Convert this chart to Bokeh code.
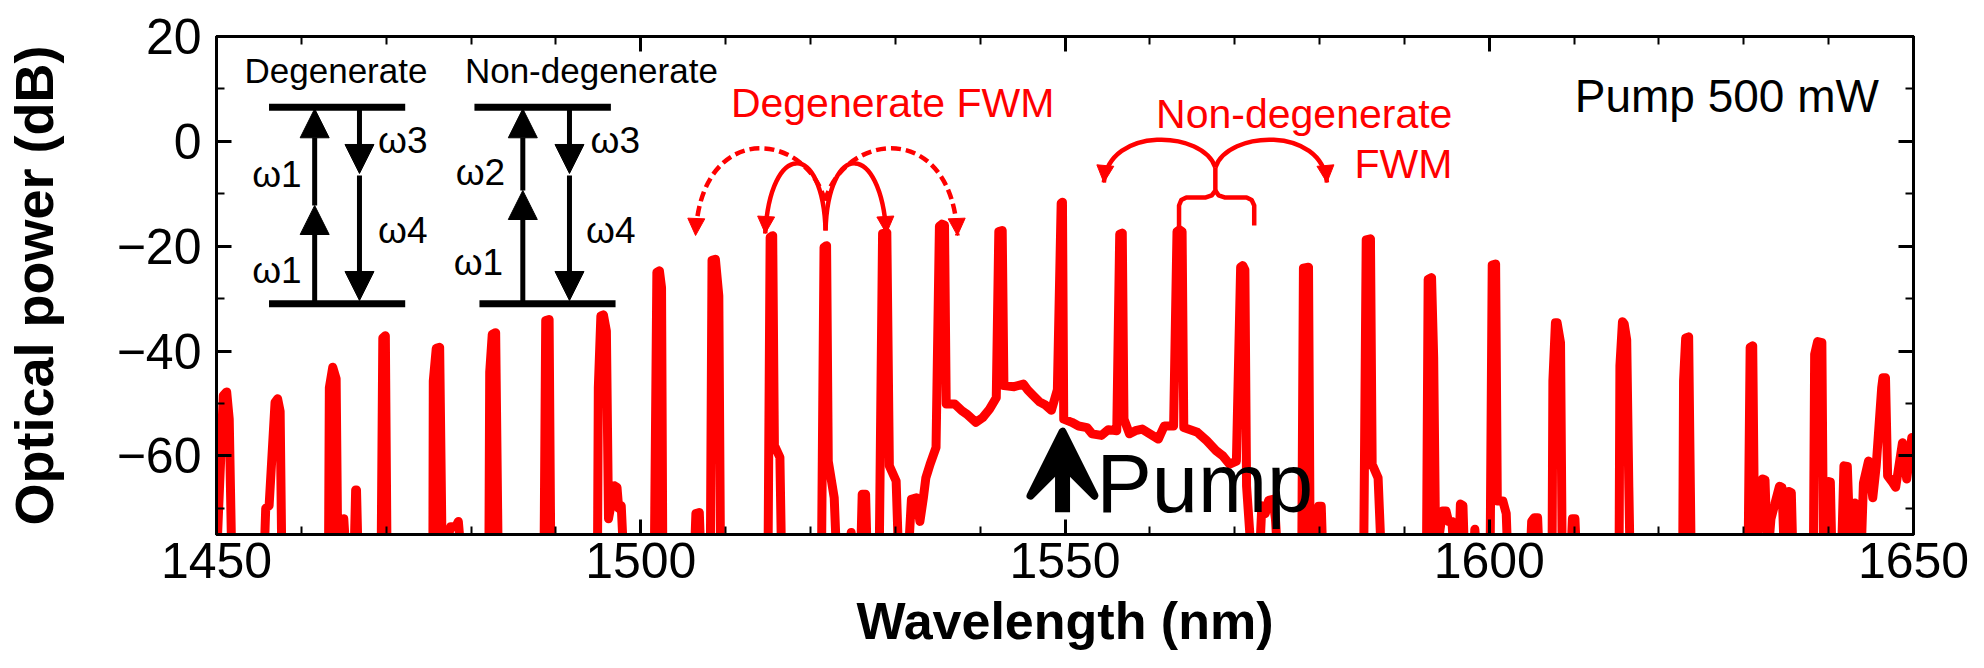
from bokeh.plotting import figure
from bokeh.models import (Range1d, LinearAxis, SingleIntervalTicker, Label,
                          Arrow, NormalHead, VeeHead)
from bokeh.embed import file_html
from bokeh.resources import INLINE

# ---------------- data ----------------
wavelength_nm = [
    1450.0, 1450.8, 1451.2, 1451.5, 1451.8,
    1455.6, 1455.8, 1456.2, 1456.9, 1457.2, 1457.5, 1457.7,
    1463.2, 1463.3, 1463.7, 1464.1, 1464.3, 1465.0, 1465.3, 1466.2, 1466.4, 1466.5, 1466.7,
    1469.4, 1469.6, 1469.9, 1470.1,
    1475.5, 1475.55, 1475.9, 1476.3, 1476.6, 1477.6, 1478.2, 1478.5, 1478.9,
    1482.1, 1482.2, 1482.5, 1482.9, 1483.2,
    1488.6, 1488.8, 1489.2, 1489.4,
    1494.9, 1495.0, 1495.3, 1495.6, 1495.95, 1496.2, 1496.9, 1497.2, 1497.4, 1497.7, 1498.0,
    1501.6, 1501.9, 1502.2, 1502.45, 1502.6,
    1506.3, 1506.5, 1506.9, 1507.1,
    1508.2, 1508.4, 1508.8, 1509.2, 1509.4,
    1515.0, 1515.25, 1515.55, 1515.75, 1516.4, 1516.6,
    1521.3, 1521.6, 1521.9, 1522.1, 1522.8, 1523.1, 1524.6, 1524.8, 1525.0, 1525.9, 1526.1, 1526.5, 1526.7,
    1528.1, 1528.5, 1529.0, 1529.3, 1530.1, 1530.4,
    1531.5, 1531.9, 1532.5, 1532.9, 1533.3, 1533.6, 1534.1, 1534.8,
    1535.2, 1535.5, 1535.8, 1536.0,
    1537.0, 1537.85, 1538.4, 1539.5, 1540.3, 1541.1, 1541.9,
    1542.2, 1542.6, 1542.8,
    1544.0, 1545.1, 1545.6, 1546.2, 1547.0, 1547.7, 1548.4, 1549.1,
    1549.55, 1549.7, 1549.85,
    1550.8, 1551.6, 1552.6, 1553.2, 1554.3, 1555.1, 1556.1,
    1556.45, 1556.75, 1556.95,
    1557.6, 1558.3, 1559.1, 1560.0, 1561.0, 1561.7, 1562.8,
    1563.2, 1563.5, 1563.8, 1564.0,
    1565.6, 1566.7, 1567.8, 1568.6, 1569.4, 1570.2,
    1570.7, 1570.95, 1571.2, 1571.4, 1572.0,
    1572.9, 1573.2, 1573.6, 1574.0, 1574.5, 1574.8, 1575.1,
    1577.9, 1578.1, 1578.7, 1578.9, 1579.7, 1579.9, 1580.2, 1580.4,
    1585.2, 1585.5, 1586.0, 1586.2, 1586.9, 1587.3,
    1592.6, 1592.8, 1593.2, 1593.45, 1593.7, 1594.5, 1594.9, 1595.2, 1595.6, 1595.9,
    1596.4, 1596.6, 1596.9, 1597.1, 1598.1, 1598.3, 1598.6,
    1600.1, 1600.35, 1600.75, 1600.95, 1601.6, 1602.0, 1602.2,
    1604.8, 1605.0, 1605.3, 1605.7, 1605.9,
    1607.4, 1607.5, 1607.8, 1608.0, 1608.4, 1608.6, 1609.6, 1609.8, 1610.1, 1610.3,
    1615.3, 1615.4, 1615.7, 1615.9, 1616.2, 1616.45, 1616.6,
    1622.8, 1622.9, 1623.15, 1623.5, 1623.8,
    1630.5, 1630.75, 1631.05, 1631.3, 1632.2, 1632.5, 1632.8, 1633.2, 1634.2, 1634.5, 1634.8,
    1635.3, 1635.6, 1635.8,
    1638.2, 1638.35, 1638.7, 1639.2, 1639.4, 1640.0, 1640.2, 1640.4,
    1641.5, 1641.8, 1642.2, 1642.6, 1643.1, 1643.5, 1643.8, 1644.1, 1644.7, 1645.2, 1645.6,
    1646.25, 1646.4, 1646.7, 1646.95, 1647.5, 1647.9, 1648.7, 1649.2, 1649.8, 1650.0,
]
power_db = [
    -80, -48.5, -47.8, -53.0, -80,
    -80, -70.0, -69.5, -49.8, -49.1, -51.5, -80,
    -80, -47.0, -43.1, -45.3, -80, -72.0, -80, -80, -66.5, -66.5, -80,
    -80, -37.5, -37.1, -80,
    -80, -45.7, -39.5, -39.3, -80, -73.5, -73.5, -72.5, -80,
    -80, -44.0, -36.8, -36.5, -80,
    -80, -34.2, -34.0, -80,
    -80, -47.0, -33.3, -33.1, -36.2, -72.0, -65.7, -66.0, -70.0, -69.5, -80,
    -80, -25.0, -24.7, -27.9, -80,
    -80, -71.0, -70.8, -80,
    -80, -22.7, -22.5, -29.5, -80,
    -80, -18.3, -18.0, -58.0, -60.3, -80,
    -80, -20.2, -19.9, -61.0, -68.0, -80, -80, -74.6, -80, -80, -67.3, -67.3, -80,
    -80, -17.6, -17.4, -61.9, -64.8, -80,
    -80, -68.3, -68.0, -72.5, -68.1, -64.2, -61.6, -58.4,
    -16.2, -15.8, -16.0, -50.1,
    -50.1, -51.4, -52.0, -53.6, -52.7, -51.1, -48.9,
    -17.2, -17.0, -46.6,
    -46.8, -46.3, -47.4, -48.4, -49.7, -50.3, -51.3, -47.4,
    -11.8, -11.6, -53.0,
    -53.6, -54.3, -54.6, -55.8, -56.1, -55.0, -55.2,
    -17.7, -17.5, -53.0,
    -55.8, -55.2, -54.9, -55.8, -56.8, -54.3, -54.3,
    -17.2, -16.9, -17.2, -54.6,
    -55.5, -57.1, -59.0, -60.0, -61.6, -61.0,
    -24.0, -23.7, -24.5, -65.8, -80,
    -80, -69.5, -71.0, -68.5, -68.3, -72.0, -80,
    -80, -24.2, -24.0, -80, -80, -69.6, -69.6, -80,
    -80, -18.8, -18.6, -61.6, -64.2, -80,
    -80, -26.3, -26.0, -41.2, -80, -70.5, -70.5, -72.5, -72.5, -80,
    -80, -69.2, -69.5, -80, -80, -74.0, -80,
    -80, -23.6, -23.4, -68.6, -68.6, -71.0, -80,
    -80, -72.5, -71.8, -71.8, -80,
    -80, -45.7, -34.6, -34.6, -38.4, -80, -80, -72.0, -72.0, -80,
    -80, -42.8, -34.4, -34.8, -37.9, -66.0, -80,
    -80, -45.7, -37.5, -37.3, -80,
    -80, -39.3, -39.0, -80, -64.4, -64.6, -80, -72.0, -65.8, -66.0, -80,
    -66.8, -67.0, -80,
    -80, -40.6, -38.2, -38.4, -80, -64.9, -65.0, -80,
    -80, -61.9, -62.0, -80, -69.0, -69.5, -80, -65.2, -61.0, -68.0, -62.0,
    -47.0, -45.1, -45.1, -63.8, -65.0, -66.0, -57.5, -64.4, -56.5, -57.0,
]

x_limits = [1450, 1650]
y_limits = [-75, 20]
x_tick_interval = 50
y_tick_interval = 20

FONT = "Liberation Sans"
RED = "#ff0000"
BLACK = "#000000"

W, H = 1984, 668
BORDER_L, BORDER_R, BORDER_T, BORDER_B = 209, 71, 36, 134
PX_PER_DB = (H - BORDER_T - BORDER_B) / (y_limits[1] - y_limits[0])

p = figure(width=W, height=H, output_backend="svg", toolbar_location=None,
           x_range=Range1d(*x_limits), y_range=Range1d(*y_limits),
           x_axis_location=None, y_axis_location=None,
           min_border_left=BORDER_L, min_border_right=BORDER_R,
           min_border_top=BORDER_T, min_border_bottom=BORDER_B)
p.background_fill_color = "white"
p.border_fill_color = "white"
p.outline_line_color = BLACK
p.outline_line_width = 3
p.grid.visible = False

bottom_axis = LinearAxis(ticker=SingleIntervalTicker(interval=x_tick_interval, num_minor_ticks=5))
top_axis = LinearAxis(ticker=SingleIntervalTicker(interval=x_tick_interval, num_minor_ticks=5))
left_axis = LinearAxis(ticker=SingleIntervalTicker(interval=y_tick_interval, num_minor_ticks=2))
right_axis = LinearAxis(ticker=SingleIntervalTicker(interval=y_tick_interval, num_minor_ticks=2))
p.add_layout(bottom_axis, "below")
p.add_layout(left_axis, "left")
p.add_layout(top_axis, "above")
p.add_layout(right_axis, "right")

for ax in (bottom_axis, left_axis, top_axis, right_axis):
    ax.axis_line_width = 3
    ax.axis_line_color = BLACK
    ax.major_tick_line_width = 3
    ax.minor_tick_line_width = 2
    ax.major_tick_line_color = BLACK
    ax.minor_tick_line_color = BLACK
    ax.major_tick_in = 15
    ax.major_tick_out = 0
    ax.minor_tick_in = 8
    ax.minor_tick_out = 0
    ax.major_label_text_font = FONT
    ax.major_label_text_color = BLACK

for ax in (top_axis, right_axis):
    ax.major_label_text_font_size = "1px"
    ax.major_label_text_color = None
    ax.major_label_standoff = 0

bottom_axis.major_label_text_font_size = "50px"
left_axis.major_label_text_font_size = "50px"
bottom_axis.major_label_standoff = 8
left_axis.major_label_standoff = 15

bottom_axis.axis_label = "Wavelength (nm)"
bottom_axis.axis_label_text_font = FONT
bottom_axis.axis_label_text_font_style = "bold"
bottom_axis.axis_label_text_font_size = "52px"
bottom_axis.axis_label_text_color = BLACK
bottom_axis.axis_label_standoff = 11

left_axis.axis_label = "Optical power (dB)"
left_axis.axis_label_text_font = FONT
left_axis.axis_label_text_font_style = "bold"
left_axis.axis_label_text_font_size = "54px"
left_axis.axis_label_text_color = BLACK
left_axis.axis_label_standoff = 50

# ---------------- spectrum ----------------
p.line(wavelength_nm, power_db, line_color=RED, line_width=9, line_join="round",
       line_cap="round")

# ---------------- energy level insets (black) ----------------
p.segment(x0=[1456.19, 1456.19, 1480.40, 1480.99],
          y0=[6.51, -30.99, 6.51, -30.99],
          x1=[1472.24, 1472.24, 1496.48, 1497.03],
          y1=[6.51, -30.99, 6.51, -30.99],
          line_color=BLACK, line_width=7)

black_arrows = [
    # (x, y_start, y_end)
    (1461.57, -30.99, -12.24), (1461.57, -12.24, 6.21),
    (1466.85, 6.51, -6.13), (1466.85, -6.52, -30.36),
    (1486.10, -30.99, -9.38), (1486.10, -9.38, 6.21),
    (1491.60, 6.51, -6.13), (1491.60, -6.52, -30.36),
]
for x, ys, ye in black_arrows:
    p.add_layout(Arrow(end=NormalHead(size=29, fill_color=BLACK, line_color=BLACK),
                       x_start=x, y_start=ys, x_end=x, y_end=ye,
                       line_color=BLACK, line_width=5))

def add_label(x, y, text, size, color=BLACK, align="center"):
    # y is the wanted text baseline; lift to match how the label is anchored
    y_anchor = y + 0.35 * size / PX_PER_DB
    p.add_layout(Label(x=x, y=y_anchor, text=text, text_font=FONT,
                       text_font_size=f"{size}px", text_color=color,
                       text_align=align, text_baseline="alphabetic"))

add_label(1464.08, 11.09, "Degenerate", 35)
add_label(1494.18, 11.09, "Non-degenerate", 35)
add_label(1457.12, -8.75, "\u03c91", 37)
add_label(1457.12, -27.18, "\u03c91", 37)
add_label(1471.95, -2.38, "\u03c93", 37)
add_label(1471.95, -19.55, "\u03c94", 37)
add_label(1481.10, -8.42, "\u03c92", 37)
add_label(1480.87, -25.60, "\u03c91", 37)
add_label(1497.00, -2.38, "\u03c93", 37)
add_label(1496.47, -19.55, "\u03c94", 37)

# ---------------- FWM annotations (red) ----------------
add_label(1529.69, 4.55, "Degenerate FWM", 41, RED)
add_label(1595.66, 2.45, "Non-degenerate", 41, RED, "right")
add_label(1595.66, -7.09, "FWM", 41, RED, "right")
add_label(1645.93, 5.5, "Pump 500 mW", 46, BLACK, "right")
add_label(1553.70, -70.8, "Pump", 83, BLACK, "left")

# curved arrows: start, control 1, control 2, end
solid_arcs = [
    ((1521.78, -17.01), (1521.48, 0.16), (1515.26, 0.16), (1514.67, -17.58)),
    ((1521.78, -17.01), (1522.07, 0.16), (1528.29, 0.16), (1528.95, -17.58)),
    ((1567.72, -4.99), (1566.31, 2.07), (1555.16, 3.02), (1554.58, -7.85)),
    ((1567.72, -4.99), (1569.13, 2.07), (1580.28, 3.02), (1580.87, -7.85)),
]
dashed_arcs = [
    ((1521.71, -11.29), (1519.37, 2.07), (1507.04, 3.98), (1506.46, -17.96)),
    ((1521.71, -11.29), (1524.18, 2.07), (1536.74, 3.98), (1537.32, -17.96)),
]

def draw_arcs(arcs, dash):
    p.bezier(x0=[a[0][0] for a in arcs], y0=[a[0][1] for a in arcs],
             x1=[a[3][0] for a in arcs], y1=[a[3][1] for a in arcs],
             cx0=[a[1][0] for a in arcs], cy0=[a[1][1] for a in arcs],
             cx1=[a[2][0] for a in arcs], cy1=[a[2][1] for a in arcs],
             line_color=RED, line_width=4.5, line_dash=dash)
    for a in arcs:
        p.add_layout(Arrow(end=NormalHead(size=17, fill_color=RED, line_color=RED),
                           x_start=a[2][0], y_start=a[2][1],
                           x_end=a[3][0], y_end=a[3][1], line_alpha=0))

draw_arcs(solid_arcs, "solid")
draw_arcs(dashed_arcs, "10 5")

# brace below the non-degenerate arrows
brace_left_x = [1563.44, 1563.44, 1563.7, 1564.3, 1566.6, 1567.3, 1567.72, 1567.72]
brace_left_y = [-16.44, -12.24, -11.2, -10.71, -10.71, -10.3, -9.4, -4.99]
brace_right_x = [1567.72, 1568.1, 1568.8, 1571.4, 1572.0, 1572.3, 1572.3]
brace_right_y = [-9.4, -10.3, -10.71, -10.71, -11.2, -12.24, -16.05]
p.line(brace_left_x, brace_left_y, line_color=RED, line_width=4.5, line_join="round")
p.line(brace_right_x, brace_right_y, line_color=RED, line_width=4.5, line_join="round")

# pump arrow: thick shaft + notched head
p.segment(x0=[1549.71], y0=[-70.75], x1=[1549.71], y1=[-61.5],
          line_color=BLACK, line_width=15)
p.add_layout(Arrow(end=VeeHead(size=64, fill_color=BLACK, line_color=BLACK,
                               line_join="round", line_width=8),
                   x_start=1549.71, y_start=-70.75, x_end=1549.71, y_end=-55.4,
                   line_alpha=0))

open("out.html", "w").write(file_html(p, INLINE))
